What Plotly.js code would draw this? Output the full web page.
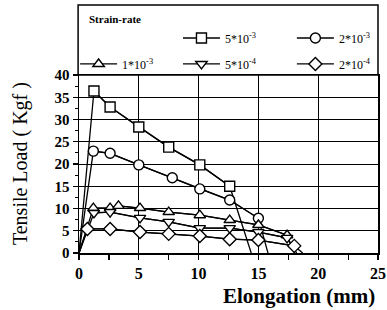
<!DOCTYPE html>
<html><head><meta charset="utf-8">
<script src="https://cdn.plot.ly/plotly-3.0.1.min.js"></script>
<style>html,body{margin:0;padding:0;background:#fff}#chart{width:387px;height:310px}</style>
</head><body><div id="chart"></div>
<script>
// Strain-rate series: elongation (mm) and tensile load (Kgf)
var names = ['5*10<sup>-3</sup>', '2*10<sup>-3</sup>', '1*10<sup>-3</sup>', '5*10<sup>-4</sup>', '2*10<sup>-4</sup>'];
var symbols = ['square', 'circle', 'triangle-up', 'triangle-down', 'diamond'];
var x_5e3 = [0, 1.25, 2.6, 5.0, 7.5, 10.1, 12.6, 14.4];
var y_5e3 = [0, 36.4, 32.8, 28.3, 23.8, 19.8, 15.0, 0];
var x_2e3 = [0, 1.2, 2.6, 5.0, 7.8, 10.1, 12.6, 15.0, 15.8];
var y_2e3 = [0, 22.9, 22.4, 19.8, 16.9, 14.4, 11.9, 7.8, 0];
var x_1e3 = [0, 1.2, 2.6, 3.3, 5.1, 7.5, 10.1, 12.6, 15.0, 17.4, 18.0];
var y_1e3 = [0, 10.1, 10.1, 10.6, 10.1, 9.2, 8.5, 7.4, 6.3, 4.0, 0];
var x_5e4 = [0, 1.25, 2.6, 5.1, 7.5, 10.1, 12.6, 15.0, 17.4, 18.2];
var y_5e4 = [0, 9.0, 9.2, 7.9, 7.0, 5.6, 5.6, 4.7, 3.4, 0];
var x_2e4 = [0, 0.7, 2.6, 5.1, 7.5, 10.1, 12.6, 15.0, 18.0, 18.7];
var y_2e4 = [0, 5.4, 5.4, 4.7, 4.3, 3.8, 3.1, 2.9, 1.6, 0];
var xs = [x_5e3, x_2e3, x_1e3, x_5e4, x_2e4];
var ys = [y_5e3, y_2e3, y_1e3, y_5e4, y_2e4];
var xTicks = [0, 5, 10, 15, 20, 25];
var yTicks = [0, 5, 10, 15, 20, 25, 30, 35, 40];

var serif = 'Liberation Serif, Times New Roman, serif';
var legendIds = ['legend', 'legend2', 'legend3', 'legend4', 'legend5'];
var traces = [];
for (var i = 0; i < xs.length; i++) {
  traces.push({x: xs[i], y: ys[i], mode: 'lines', line: {color: '#000', width: 1.3}, showlegend: false, hoverinfo: 'skip'});
}
for (var i = 0; i < xs.length; i++) {
  traces.push({x: xs[i].slice(1, -1), y: ys[i].slice(1, -1), mode: 'lines+markers', name: names[i],
    legend: legendIds[i],
    line: {color: '#000', width: 1.3},
    marker: {symbol: symbols[i], size: 10, color: '#fff', line: {color: '#000', width: 1.4}}});
}
var L = function(xp, yp) {
  return {x: xp, y: yp, xanchor: 'left', yanchor: 'middle', orientation: 'h', bgcolor: 'rgba(0,0,0,0)',
    borderwidth: 0, itemwidth: 37, font: {family: serif, size: 12, color: '#000'}};
};
var layout = {
  width: 387, height: 310,
  margin: {l: 79, r: 9, t: 75, b: 57},
  paper_bgcolor: '#fff', plot_bgcolor: '#fff',
  font: {family: serif, color: '#000'},
  xaxis: {range: [0, 25], tickvals: xTicks, ticktext: xTicks.map(String), ticks: 'outside', ticklen: 5, tickwidth: 1.2,
    tickcolor: '#000', showline: true, linecolor: '#000', linewidth: 1.5, mirror: true, ticklabeloverflow: 'allow',
    showgrid: true, gridcolor: '#000', gridwidth: 1, zeroline: false,
    minor: {dtick: 2.5, tick0: 0, ticks: 'outside', ticklen: 5, tickcolor: '#000', tickwidth: 1.2, showgrid: false},
    tickfont: {family: serif, size: 16, color: '#000', weight: 'bold'}},
  yaxis: {range: [0, 40], tickvals: yTicks, ticktext: yTicks.map(String), ticks: 'outside', ticklen: 5, tickwidth: 1.2,
    tickcolor: '#000', showline: true, linecolor: '#000', linewidth: 1.5, mirror: true,
    showgrid: true, gridcolor: '#000', gridwidth: 1, zeroline: false,
    minor: {dtick: 2.5, tick0: 0, ticks: 'outside', ticklen: 3, tickcolor: '#000', tickwidth: 1, showgrid: false},
    tickfont: {family: serif, size: 15, color: '#000', weight: 'bold'}},
  legend: L(0.331, 1.208),
  legend2: L(0.712, 1.208),
  legend3: L(-0.013, 1.062),
  legend4: L(0.331, 1.062),
  legend5: L(0.712, 1.062),
  shapes: [{type: 'rect', xref: 'paper', yref: 'paper', x0: -0.003, x1: 1, y0: 1, y1: 1.393,
    line: {color: '#000', width: 1.5}}],
  annotations: [
    {text: '<b>Strain-rate</b>', xref: 'paper', yref: 'paper', x: 0.027, y: 1.315, xanchor: 'left', yanchor: 'middle',
      showarrow: false, font: {family: serif, size: 11, color: '#000'}},
    {text: 'Tensile Load ( Kgf )', xref: 'paper', yref: 'paper', x: -0.197, y: 0.5, xanchor: 'center', yanchor: 'middle',
      textangle: -90, showarrow: false, font: {family: serif, size: 20, color: '#000'}},
    {text: 'Elongation (mm)', xref: 'paper', yref: 'paper', x: 0.736, y: -0.24, xanchor: 'center', yanchor: 'middle',
      showarrow: false, font: {family: serif, size: 21, color: '#000', weight: 'bold'}}
  ]
};
Plotly.newPlot('chart', traces, layout, {staticPlot: true, displayModeBar: false});
</script></body></html>
